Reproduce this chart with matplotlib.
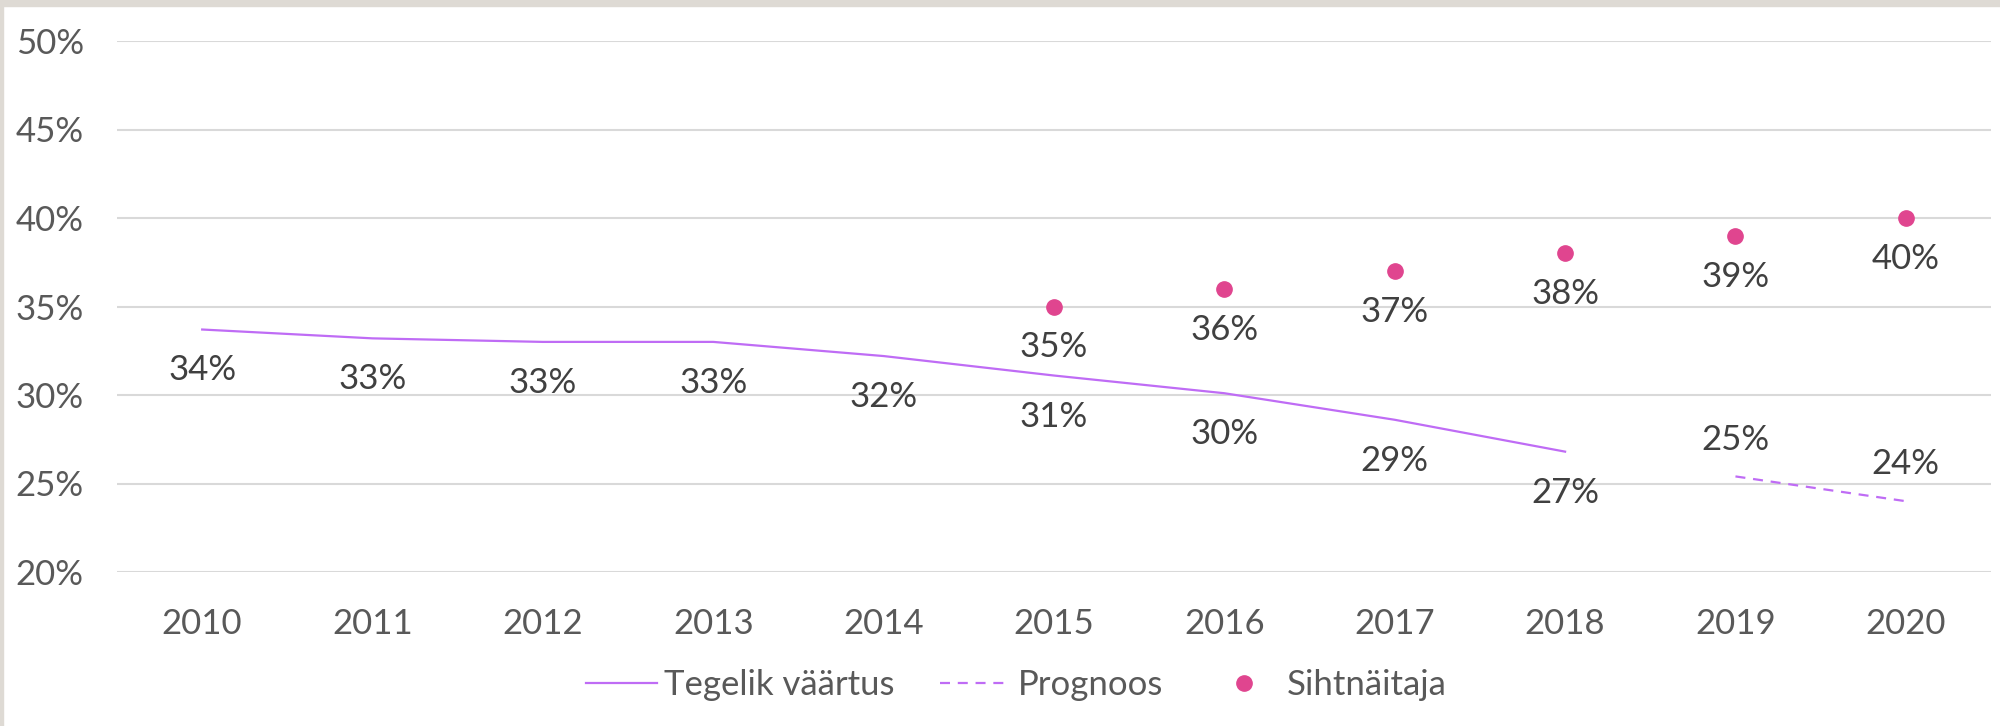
import matplotlib
matplotlib.use("Agg")
import matplotlib.pyplot as plt
from matplotlib.patches import Rectangle

years = ["2010", "2011", "2012", "2013", "2014", "2015", "2016", "2017", "2018", "2019", "2020"]
actual = [33.7, 33.2, 33.0, 33.0, 32.2, 31.1, 30.1, 28.6, 26.8]          # 2010-2018
forecast = [25.4, 24.0]                                                  # 2019-2020
target = [35, 36, 37, 38, 39, 40]                                        # 2015-2020
yticks = [20, 25, 30, 35, 40, 45, 50]

LINE_C = "#bf6cf5"
DOT_C = "#e0458f"
LBL_C = "#404040"
TICK_C = "#595959"
FONT = ["Lato", "DejaVu Sans"]
FS = 25

plt.rcParams['font.family'] = FONT

fig = plt.figure(figsize=(20, 7.26), dpi=100)
fig.patch.set_facecolor("white")
# light frame at top and left
fig.add_artist(Rectangle((0, 1 - 6 / 726), 1, 6 / 726, transform=fig.transFigure,
                         color="#dedad4", zorder=0))
fig.add_artist(Rectangle((0, 0), 3 / 2000, 1, transform=fig.transFigure,
                         color="#dedad4", zorder=0))

ax = fig.add_axes([117 / 2000, 1 - 572 / 726, (1991 - 117) / 2000, (572 - 41) / 726])

x_all = list(range(len(years)))
x_act = x_all[:len(actual)]
x_fc = x_all[len(years) - len(forecast):]
x_tg = x_all[len(years) - len(target):]


def pct(v):
    return f"{int(v + 0.5)}%"


ax.plot(x_act, actual, color=LINE_C, lw=1.6, label="Tegelik väärtus", zorder=3)
ax.plot(x_fc, forecast, color=LINE_C, lw=1.6, ls=(0, (4.5, 3.5)), label="Prognoos", zorder=3)
ax.plot(x_tg, target, ls="none", marker="o", ms=11, color=DOT_C, mec=DOT_C,
        label="Sihtnäitaja", zorder=4)

for x, v in zip(x_act, actual):
    ax.annotate(pct(v), (x, v), xytext=(0, -29.5), textcoords="offset points",
                ha="center", va="center", fontsize=FS, color=LBL_C)
for x, v in zip(x_fc, forecast):
    ax.annotate(pct(v), (x, v), xytext=(0, 26.5), textcoords="offset points",
                ha="center", va="center", fontsize=FS, color=LBL_C)
for x, v in zip(x_tg, target):
    ax.annotate(pct(v), (x, v), xytext=(0, -29.5), textcoords="offset points",
                ha="center", va="center", fontsize=FS, color=LBL_C)

ax.set_xlim(-0.5, len(years) - 0.5)
ax.set_ylim(20, 50)
ax.set_xticks(x_all)
ax.set_xticklabels(years)
ax.set_yticks(yticks)
ax.set_yticklabels([f"{t}%" for t in yticks])
ax.tick_params(axis="both", length=0, labelsize=FS, labelcolor=TICK_C)
ax.tick_params(axis="x", pad=26)
ax.tick_params(axis="y", pad=24)
ax.grid(axis="y", color="#d9d9d9", lw=1.5)
ax.set_axisbelow(True)
for s in ax.spines.values():
    s.set_visible(False)

leg = ax.legend(loc="center", bbox_to_anchor=(1016 / 2000, 1 - 685 / 726),
                bbox_transform=fig.transFigure, ncol=3, frameon=False,
                fontsize=FS, labelcolor=TICK_C, handlelength=2.05,
                handletextpad=0.2, columnspacing=1.3)

fig.savefig("out.png", dpi=100)
